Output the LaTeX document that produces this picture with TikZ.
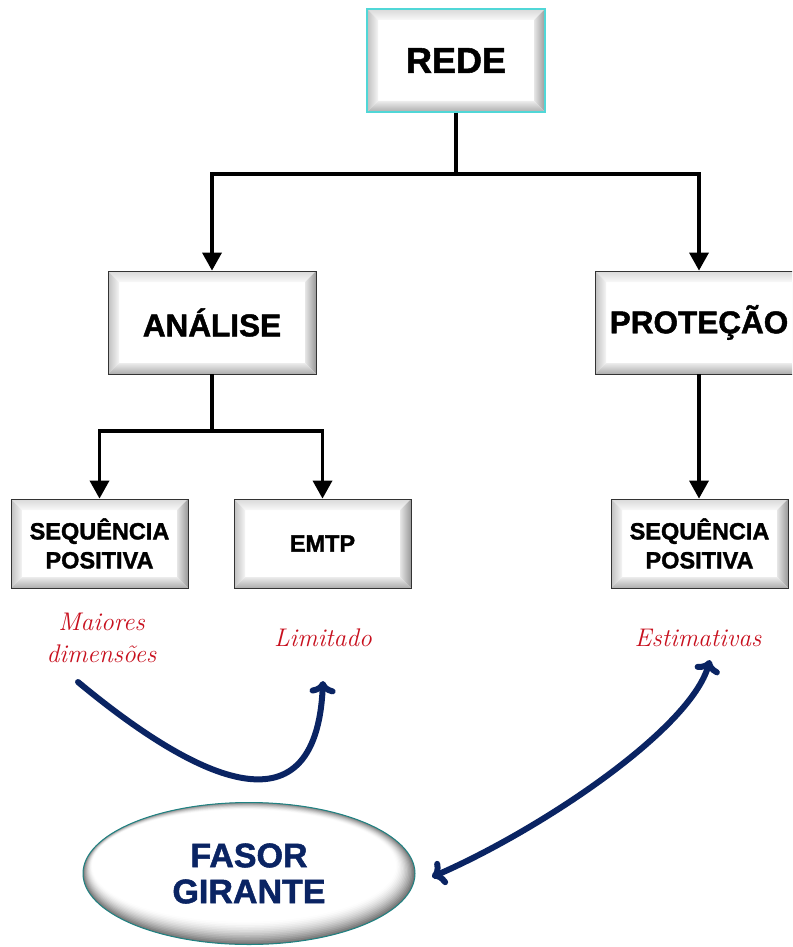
\documentclass[tikz,border=0pt]{standalone}
\usepackage{fontspec}
\newfontfamily\arialfont{Liberation Sans}[BoldFeatures={FakeBold=1.5}]
\usetikzlibrary{arrows.meta,calc,shapes.geometric}
\definecolor{navy}{RGB}{10,36,99}
\definecolor{redtxt}{RGB}{200,16,30}
\definecolor{cyanedge}{RGB}{80,215,215}
\definecolor{tealedge}{RGB}{30,130,130}
\newcommand\bevelsides[1]{%
  \coordinate (bsw) at (path picture bounding box.south west);
  \coordinate (bne) at (path picture bounding box.north east);
  \coordinate (bnw) at (path picture bounding box.north west);
  \coordinate (bse) at (path picture bounding box.south east);
  \shade[top color=gray!30, bottom color=gray!5] (bnw) -- (bne) -- ([shift={(-#1,-#1)}]bne) -- ([shift={(#1,-#1)}]bnw) -- cycle;
  \shade[left color=gray!50, right color=gray!8] (bsw) -- (bnw) -- ([shift={(#1,-#1)}]bnw) -- ([shift={(#1,#1)}]bsw) -- cycle;
  \shade[left color=gray!20, right color=gray!80] (bse) -- (bne) -- ([shift={(-#1,-#1)}]bne) -- ([shift={(-#1,#1)}]bse) -- cycle;
  \shade[top color=gray!15, bottom color=gray!65] (bsw) -- (bse) -- ([shift={(-#1,#1)}]bse) -- ([shift={(#1,#1)}]bsw) -- cycle;
}
\newcommand\ellring{%
  \foreach \i in {0,...,14}{%
    \pgfmathsetmacro\shd{55*(1-\i/14)^1.6}%
    \pgfmathsetmacro\dx{-0.35*\i}%
    \pgfmathsetmacro\dy{0.55*\i}%
    \pgfmathsetmacro\rx{166-1.0*\i}%
    \pgfmathsetmacro\ry{71.5-1.1*\i}%
    \fill[black!\shd!white] ([shift={(\dx pt,\dy pt)}]path picture bounding box.center) ellipse [x radius=\rx pt, y radius=\ry pt];
  }%
}
\begin{document}
\begin{tikzpicture}[x=1pt,y=-1pt]
\tikzset{
  bevbox/.style={rectangle, draw=black!80, line width=0.8pt, fill=white, inner sep=0pt, align=center, text=black, path picture={\bevelsides{11pt}}},
  bigtxt/.style={font=\arialfont\bfseries\fontsize{31.5}{36}\selectfont},
  smalltxt/.style={font=\arialfont\bfseries\fontsize{23.5}{29}\selectfont},
  conn/.style={line width=3.5pt, black},
  connarr/.style={conn, -{Triangle[length=18pt,width=19pt]}},
  note/.style={text=redtxt, font=\itshape\fontsize{25.5}{32}\selectfont, align=center, inner sep=0pt},
  curvy/.style={navy, line width=6pt, line cap=round},
  barb/.style={-{Computer Modern Rightarrow[length=13pt,width=26pt]}},
  dbarb/.style={{Computer Modern Rightarrow[length=13pt,width=26pt]}-{Computer Modern Rightarrow[length=13pt,width=26pt]}}
}
\clip (0,0) rectangle (792,947);
\fill[white] (0,0) rectangle (792,947);

% boxes
\node[bevbox, draw=cyanedge, line width=1.4pt, minimum width=178pt, minimum height=103pt, font=\arialfont\bfseries\fontsize{36}{40}\selectfont] (rede) at (456,60.5) {REDE};
\node[bevbox, bigtxt, minimum width=208pt, minimum height=103pt] (analise) at (212,322.5) {ANÁLISE};
\node[bevbox, bigtxt, minimum width=208pt, minimum height=103pt] (protecao) at (699,322.5) {PROTEÇÃO};
\node[bevbox, smalltxt, minimum width=177pt, minimum height=89pt] (seq1) at (99.5,543.5) {SEQUÊNCIA\\POSITIVA};
\node[bevbox, smalltxt, minimum width=177pt, minimum height=89pt] (emtp) at (322.5,543.5) {EMTP};
\node[bevbox, smalltxt, minimum width=177pt, minimum height=89pt] (seq2) at (699.5,543.5) {SEQUÊNCIA\\POSITIVA};

% tree connectors
\coordinate (j1) at (456,174);
\coordinate (j2) at (212,431);
\draw[conn] (rede.south) -- (j1);
\draw[connarr] (j1) -| (analise.north);
\draw[connarr] (j1) -| (protecao.north);
\draw[conn] (analise.south) -- (j2);
\draw[connarr] (j2) -| (seq1.north);
\draw[connarr] (j2) -| (emtp.north);
\draw[connarr] (protecao.south) -- (protecao.south |- seq2.north);

% notes
\node[note] (maiores) at (101.5,638) {Maiores\\dimensões};
\node[note] (limitado) at (323,638) {Limitado};
\node[note] (estim) at (698,638) {Estimativas};

% ellipse
\node[ellipse, draw=tealedge, line width=1pt, path picture={\ellring}, minimum width=332pt, minimum height=142pt, inner sep=0pt, align=center, text=navy, font=\arialfont\bfseries\fontsize{34}{36}\selectfont] (fasor) at (249,873.5) {FASOR\\GIRANTE};

% curved arrows
\coordinate (a1s) at (78,682);
\coordinate (a1e) at (323,681);
\draw[curvy, barb] (a1s) .. controls (190,775) and (316,842) .. (a1e);
\coordinate (a2s) at (432,877);
\coordinate (a2e) at (710,660);
\draw[curvy, dbarb] (a2s) .. controls (540,830) and (690,730) .. (a2e);
\end{tikzpicture}
\end{document}
